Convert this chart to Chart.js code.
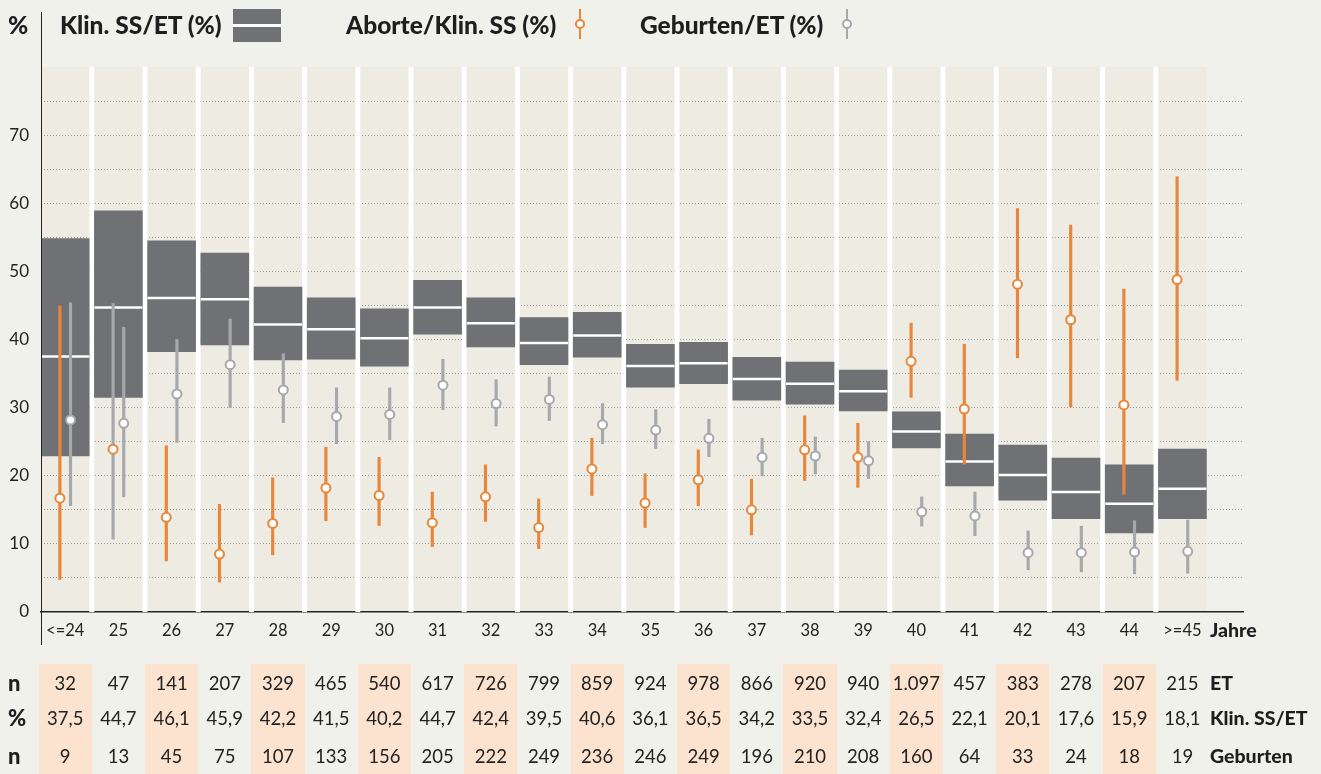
<!DOCTYPE html>
<html>
<head>
<meta charset="utf-8">
<script src="https://cdn.jsdelivr.net/npm/chart.js@4.4.0/dist/chart.umd.min.js"></script>
<style>
  body { margin: 0; background: #f1f1ec; font-family: Lato, "Open Sans", sans-serif; color: #222; }
  #wrap { position: relative; width: 1321px; height: 774px; overflow: hidden; }
  #chart { position: absolute; left: 0; top: 0; }
  .abs { position: absolute; white-space: nowrap; }
  .bold { font-weight: 900; color: #1e1e1e; }
  .lbl { font-size: 24.5px; line-height: 26px; transform: translateY(-50%); }
  .cell { font-size: 18.5px; line-height: 20px; text-align: center; transform: translate(-50%, -50%); }
  .peach { position: absolute; background: #fce3d0; }
</style>
</head>
<body>
<div id="wrap">
  <canvas id="chart" width="1321" height="774"></canvas>
  <div id="overlay"></div>
</div>
<script>
const $ = (s) => document.querySelector(s);

// age groups (x categories)
const ages = ["<=24", "25", "26", "27", "28", "29", "30", "31", "32", "33", "34",
  "35", "36", "37", "38", "39", "40", "41", "42", "43", "44", ">=45"];

// table rows
const etN = [32, 47, 141, 207, 329, 465, 540, 617, 726, 799, 859, 924, 978, 866, 920, 940, 1097, 457, 383, 278, 207, 215];
const klinPct = [37.5, 44.7, 46.1, 45.9, 42.2, 41.5, 40.2, 44.7, 42.4, 39.5, 40.6, 36.1, 36.5, 34.2, 33.5, 32.4, 26.5, 22.1, 20.1, 17.6, 15.9, 18.1];
const gebN = [9, 13, 45, 75, 107, 133, 156, 205, 222, 249, 236, 246, 249, 196, 210, 208, 160, 64, 33, 24, 18, 19];

// Klin. SS/ET confidence range (box)
const klinLow = [22.9, 31.5, 38.2, 39.2, 37.0, 37.1, 36.1, 40.8, 38.9, 36.3, 37.4, 33.0, 33.5, 31.1, 30.5, 29.5, 24.1, 18.5, 16.4, 13.7, 11.6, 13.7];
const klinHigh = [54.8, 58.9, 54.5, 52.7, 47.7, 46.1, 44.5, 48.7, 46.1, 43.2, 44.0, 39.3, 39.6, 37.4, 36.7, 35.5, 29.4, 26.1, 24.5, 22.6, 21.6, 23.9];

// Aborte/Klin. SS
const abortPct = [16.7, 23.9, 13.9, 8.5, 13.0, 18.2, 17.1, 13.1, 16.9, 12.4, 21.0, 16.0, 19.4, 15.0, 23.8, 22.7, 36.8, 29.8, 48.1, 42.9, 30.4, 48.8];
const abortLow = [4.8, 10.7, 7.5, 4.4, 8.4, 13.4, 12.7, 9.6, 13.3, 9.3, 17.1, 12.4, 15.6, 11.3, 19.3, 18.3, 31.5, 21.7, 37.3, 30.1, 17.3, 34.0];
const abortHigh = [44.9, 45.3, 24.4, 15.8, 19.7, 24.2, 22.7, 17.6, 21.6, 16.6, 25.5, 20.3, 23.8, 19.5, 28.8, 27.7, 42.4, 39.3, 59.2, 56.8, 47.4, 63.9];

// Geburten/ET
const gebPct = [28.2, 27.7, 32.0, 36.3, 32.6, 28.7, 29.0, 33.3, 30.6, 31.2, 27.5, 26.7, 25.5, 22.7, 22.9, 22.2, 14.7, 14.1, 8.7, 8.7, 8.8, 8.9];
const gebLow = [15.6, 16.9, 24.9, 30.0, 27.8, 24.7, 25.3, 29.7, 27.3, 28.1, 24.7, 24.0, 22.8, 20.0, 20.3, 19.6, 12.6, 11.2, 6.2, 5.9, 5.6, 5.7];
const gebHigh = [45.4, 41.8, 40.0, 43.0, 37.9, 32.9, 32.9, 37.1, 34.1, 34.5, 30.6, 29.7, 28.3, 25.5, 25.7, 25.0, 16.9, 17.6, 11.9, 12.6, 13.4, 13.5];

const ORANGE = "#e8873a";
const GREY = "#a7a8ab";
const BOX = "#707174";
const COL_HALF = 0.454; // half column width in category units

const fmtInt = (n) => String(n).replace(/\B(?=(\d{3})+(?!\d))/g, ".");
const fmtPct = (n) => n.toFixed(1).replace(".", ",");

// beige columns behind the grid, white gaps over it
const columnsPlugin = {
  id: "columns",
  beforeDraw(chart) {
    const { ctx, scales: { x, y } } = chart;
    ctx.save();
    ctx.fillStyle = "#eeebe3";
    const l = x.getPixelForValue(-COL_HALF), r = x.getPixelForValue(ages.length - 1 + COL_HALF);
    ctx.fillRect(l, y.getPixelForValue(80), r - l, y.getPixelForValue(0) - y.getPixelForValue(80));
    ctx.restore();
  },
  beforeDatasetsDraw(chart) {
    const { ctx, scales: { x, y } } = chart;
    ctx.save();
    ctx.fillStyle = "#ffffff";
    const t = y.getPixelForValue(80), b = y.getPixelForValue(0);
    for (let i = 0; i < ages.length - 1; i++) {
      const l = x.getPixelForValue(i + COL_HALF), r = x.getPixelForValue(i + 1 - COL_HALF);
      ctx.fillRect(l, t, r - l, b - t);
    }
    ctx.restore();
  },
};

const idx = ages.map((_, i) => i);

const datasets = [
  {
    type: "line",
    label: "Aborte points",
    data: idx.map((i) => ({ x: i - 0.1, y: abortPct[i] })),
    showLine: false,
    pointRadius: 4.5,
    pointBorderWidth: 2,
    pointBackgroundColor: "#ffffff",
    pointBorderColor: ORANGE,
    order: 1,
  },
  {
    type: "line",
    label: "Geburten points",
    data: idx.map((i) => ({ x: i + 0.1, y: gebPct[i] })),
    showLine: false,
    pointRadius: 4.5,
    pointBorderWidth: 2,
    pointBackgroundColor: "#ffffff",
    pointBorderColor: GREY,
    order: 2,
  },
  {
    type: "bar",
    label: "Aborte range",
    data: idx.map((i) => ({ x: i - 0.1, y: [abortLow[i], abortHigh[i]] })),
    backgroundColor: idx.map((i) => (i === 1 ? GREY : ORANGE)),
    barThickness: 2.5,
    grouped: false,
    order: 3,
  },
  {
    type: "bar",
    label: "Geburten range",
    data: idx.map((i) => ({ x: i + 0.1, y: [gebLow[i], gebHigh[i]] })),
    backgroundColor: GREY,
    barThickness: 2.5,
    grouped: false,
    order: 4,
  },
  {
    type: "line",
    label: "Klin. median",
    data: idx.map((i) => ({ x: i, y: klinPct[i] })),
    showLine: false,
    pointStyle: "line",
    pointRadius: 24,
    pointBorderWidth: 2.5,
    pointBorderColor: "#ffffff",
    order: 5,
  },
  {
    type: "bar",
    label: "Klin. SS/ET",
    data: idx.map((i) => ({ x: i, y: [klinLow[i], klinHigh[i]] })),
    backgroundColor: BOX,
    barThickness: 48,
    grouped: false,
    order: 6,
  },
];

const chart = new Chart($("#chart"), {
  type: "bar",
  data: { datasets },
  plugins: [columnsPlugin],
  options: {
    responsive: false,
    animation: false,
    events: [],
    layout: { padding: { left: 0, top: 67, right: 78, bottom: 122 } },
    plugins: { legend: { display: false }, tooltip: { enabled: false } },
    scales: {
      x: {
        type: "linear",
        offset: false,
        min: -0.455,
        max: 22.139,
        afterBuildTicks: (s) => { s.ticks = idx.map((i) => ({ value: i })); },
        afterFit: (s) => { s.height = 40; },
        ticks: {
          callback: (v) => ages[v] ?? "",
          color: "#222",
          font: { family: "Lato", size: 16.5 },
          padding: 9,
          maxRotation: 0,
          autoSkip: false,
        },
        grid: { display: false, drawTicks: false, offset: false },
        border: { display: true, color: "#222", width: 1.5 },
      },
      y: {
        min: 0,
        max: 80,
        afterFit: (s) => { s.width = 41; },
        ticks: {
          stepSize: 5,
          callback: (v) => (v % 10 === 0 && v < 80 ? v : ""),
          color: "#222",
          font: { family: "Lato", size: 17 },
          padding: 12,
        },
        grid: {
          drawTicks: false,
          color: (c) => (c.tick.value === 0 || c.tick.value === 80 ? "rgba(0,0,0,0)" : "#9a9a9a"),
          lineWidth: 1,
        },
        border: { display: false, dash: [1, 2] },
      },
    },
  },
});

// overlay: legend, axis line, table
function buildOverlay() {
  const xs = chart.scales.x;
  const step = xs.getPixelForValue(1) - xs.getPixelForValue(0);
  const parts = [];

  // y axis line reaching up into the legend row
  parts.push(`<div class="abs" style="left:40.5px;top:12px;width:1.2px;height:633px;background:#222"></div>`);

  // legend
  parts.push(`<div class="abs bold lbl" style="left:8px;top:25px">%</div>`);
  parts.push(`<div class="abs bold lbl" style="left:60px;top:25px">Klin. SS/ET (%)</div>`);
  parts.push(`<div class="abs" style="left:233px;top:9px;width:48px;height:33px;background:${BOX}"></div>`);
  parts.push(`<div class="abs" style="left:233px;top:24px;width:48px;height:3px;background:#fff"></div>`);
  parts.push(`<div class="abs bold lbl" style="left:346px;top:25px">Aborte/Klin. SS (%)</div>`);
  parts.push(`<div class="abs" style="left:579px;top:9px;width:2px;height:30px;background:${ORANGE}"></div>`);
  parts.push(`<div class="abs" style="left:575px;top:19px;width:6px;height:6px;border:2px solid ${ORANGE};border-radius:50%;background:#fff"></div>`);
  parts.push(`<div class="abs bold lbl" style="left:640px;top:25px">Geburten/ET (%)</div>`);
  parts.push(`<div class="abs" style="left:846px;top:9px;width:2px;height:30px;background:${GREY}"></div>`);
  parts.push(`<div class="abs" style="left:842px;top:19px;width:6px;height:6px;border:2px solid ${GREY};border-radius:50%;background:#fff"></div>`);

  parts.push(`<div class="abs bold lbl" style="left:1210px;top:630px;font-size:19.5px">Jahre</div>`);

  // table
  const rows = [
    { y: 683, label: "n", right: "ET", vals: etN.map(fmtInt) },
    { y: 718, label: "%", right: "Klin. SS/ET", vals: klinPct.map(fmtPct) },
    { y: 756, label: "n", right: "Geburten", vals: gebN.map(fmtInt) },
  ];
  idx.forEach((i) => {
    if (i % 2 === 0) {
      const cx = xs.getPixelForValue(i);
      parts.push(`<div class="peach" style="left:${cx - step / 2}px;top:664px;width:${step}px;height:110px"></div>`);
    }
  });
  rows.forEach((r) => {
    parts.push(`<div class="abs bold lbl" style="left:8px;top:${r.y}px;font-size:22px">${r.label}</div>`);
    parts.push(`<div class="abs bold lbl" style="left:1210px;top:${r.y}px;font-size:19.5px">${r.right}</div>`);
    r.vals.forEach((v, i) => {
      const cx = xs.getPixelForValue(i);
      parts.push(`<div class="abs cell" style="left:${cx}px;top:${r.y}px">${v}</div>`);
    });
  });
  $("#overlay").innerHTML = parts.join("");
}
buildOverlay();
</script>
</body>
</html>
